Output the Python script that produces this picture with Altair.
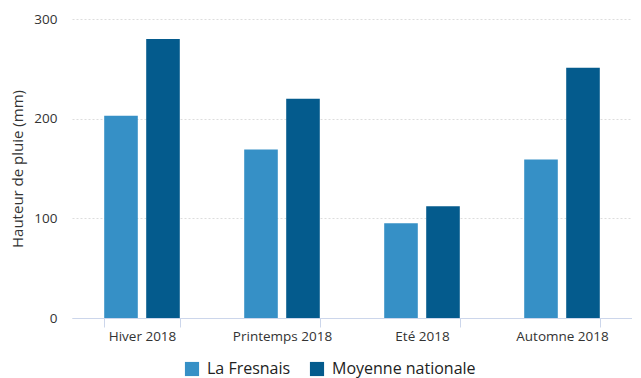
import altair as alt
import pandas as pd

seasons = ["Hiver 2018", "Printemps 2018", "Eté 2018", "Automne 2018"]
series = ["La Fresnais", "Moyenne nationale"]
la_fresnais = [203, 169, 95, 159]
moyenne_nationale = [280, 220, 112, 251]
colors = ["#3690c6", "#045b8d"]

rows = []
for s, a, b in zip(seasons, la_fresnais, moyenne_nationale):
    rows.append({"saison": s, "serie": series[0], "valeur": a})
    rows.append({"saison": s, "serie": series[1], "valeur": b})
df = pd.DataFrame(rows)

font = "Open Sans"

chart = alt.Chart(df).mark_bar().encode(
    x=alt.X("saison:N", sort=seasons, title=None,
            scale=alt.Scale(paddingInner=0.46, paddingOuter=0.23),
            axis=alt.Axis(labelAngle=0, labelFont=font, labelFontSize=13.5,
                          labelColor="#333333", labelPadding=2,
                          domainColor="#ccd6eb", tickColor="#ccd6eb",
                          tickSize=9, tickBand="extent", grid=False)),
    xOffset=alt.XOffset("serie:N", sort=series,
                        scale=alt.Scale(paddingInner=0.2, paddingOuter=0)),
    y=alt.Y("valeur:Q", title="Hauteur de pluie (mm)",
            scale=alt.Scale(domain=[0, 300]),
            axis=alt.Axis(values=[0, 100, 200, 300], labelFont=font,
                          labelFontSize=13.5, labelColor="#333333",
                          labelPadding=15, domain=False, ticks=False,
                          gridDash=[2, 2], gridColor="#dddddd",
                          titleFont=font, titleFontSize=15,
                          titleFontWeight="normal", titleColor="#333333",
                          titlePadding=8)),
    color=alt.Color("serie:N", sort=series,
                    scale=alt.Scale(domain=series, range=colors),
                    legend=alt.Legend(title=None, orient="none",
                                      direction="horizontal",
                                      legendX=112, legendY=342,
                                      symbolType="square", symbolSize=200,
                                      symbolStrokeWidth=0,
                                      labelFont=font, labelFontSize=16,
                                      labelColor="#222222", columnPadding=18,
                                      labelOffset=7)),
).properties(
    width=560, height=299,
    autosize=alt.AutoSizeParams(type="none"),
    padding={"left": 64, "top": 11, "right": 0, "bottom": 60},
).configure_view(strokeWidth=0)

chart.save("out.html", embed_options={"renderer": "svg", "actions": False})
